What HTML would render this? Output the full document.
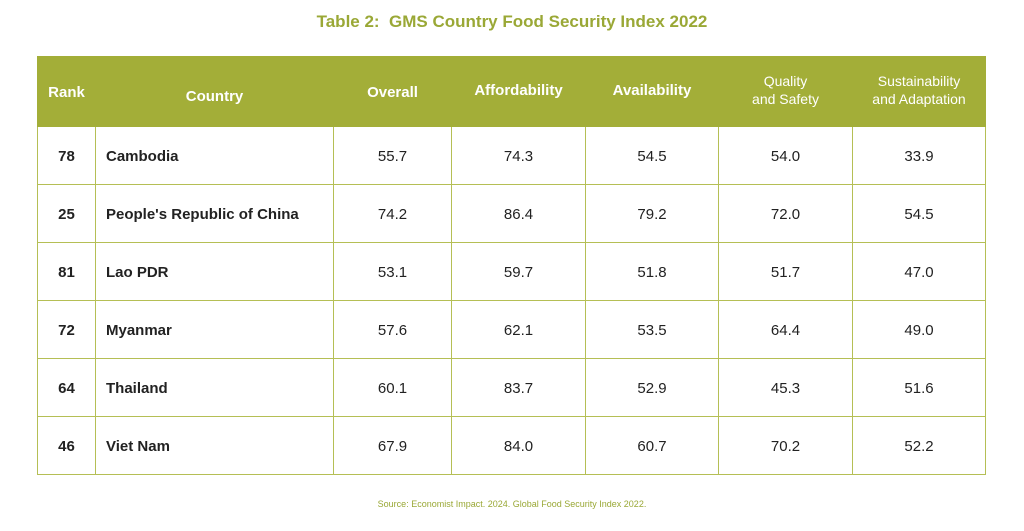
<!DOCTYPE html>
<html><head><style>
body{margin:0;width:1024px;height:531px;background:#fff;font-family:"Liberation Sans",sans-serif;position:relative;overflow:hidden}
.t{position:absolute;left:0;width:1024px;top:12px;text-align:center;color:#9aa836;font-weight:bold;font-size:17px}
.s{position:absolute;left:0;width:1024px;top:499px;text-align:center;color:#9aa836;font-size:9px}
table{position:absolute;left:37px;top:56px;border-collapse:collapse;table-layout:fixed}
td,th{border:1px solid #b5bf55;padding:0;text-align:center;font-size:15px;color:#222;box-sizing:border-box}
th{background:#a3ae38;color:#fff;font-weight:bold;height:70px;border-color:#a3ae38;line-height:19px}
th span{position:relative;display:inline-block}
th.sm{font-weight:normal;font-size:14px;line-height:18px}
td{height:58px;padding-top:1px}
td.r{font-weight:bold}
td.c{text-align:left;padding-left:10px;font-weight:bold}
</style></head><body>
<div class="t">Table 2:&nbsp; GMS Country Food Security Index 2022</div>
<table>
<colgroup><col style="width:58px"><col style="width:238px"><col style="width:118px"><col style="width:134px"><col style="width:133px"><col style="width:134px"><col style="width:133px"></colgroup>
<tr><th><span style="top:1px">Rank</span></th><th><span style="top:5px">Country</span></th><th><span style="top:1px">Overall</span></th><th><span style="top:-1px">Affordability</span></th><th><span style="top:-1px">Availability</span></th><th class="sm"><span style="top:-2px">Quality<br>and Safety</span></th><th class="sm"><span style="top:-2px">Sustainability<br>and Adaptation</span></th></tr>
<tr><td class="r">78</td><td class="c">Cambodia</td><td>55.7</td><td>74.3</td><td>54.5</td><td>54.0</td><td>33.9</td></tr>
<tr><td class="r">25</td><td class="c">People's Republic of China</td><td>74.2</td><td>86.4</td><td>79.2</td><td>72.0</td><td>54.5</td></tr>
<tr><td class="r">81</td><td class="c">Lao PDR</td><td>53.1</td><td>59.7</td><td>51.8</td><td>51.7</td><td>47.0</td></tr>
<tr><td class="r">72</td><td class="c">Myanmar</td><td>57.6</td><td>62.1</td><td>53.5</td><td>64.4</td><td>49.0</td></tr>
<tr><td class="r">64</td><td class="c">Thailand</td><td>60.1</td><td>83.7</td><td>52.9</td><td>45.3</td><td>51.6</td></tr>
<tr><td class="r">46</td><td class="c">Viet Nam</td><td>67.9</td><td>84.0</td><td>60.7</td><td>70.2</td><td>52.2</td></tr>
</table>
<div class="s">Source: Economist Impact. 2024. Global Food Security Index 2022.</div>
</body></html>
